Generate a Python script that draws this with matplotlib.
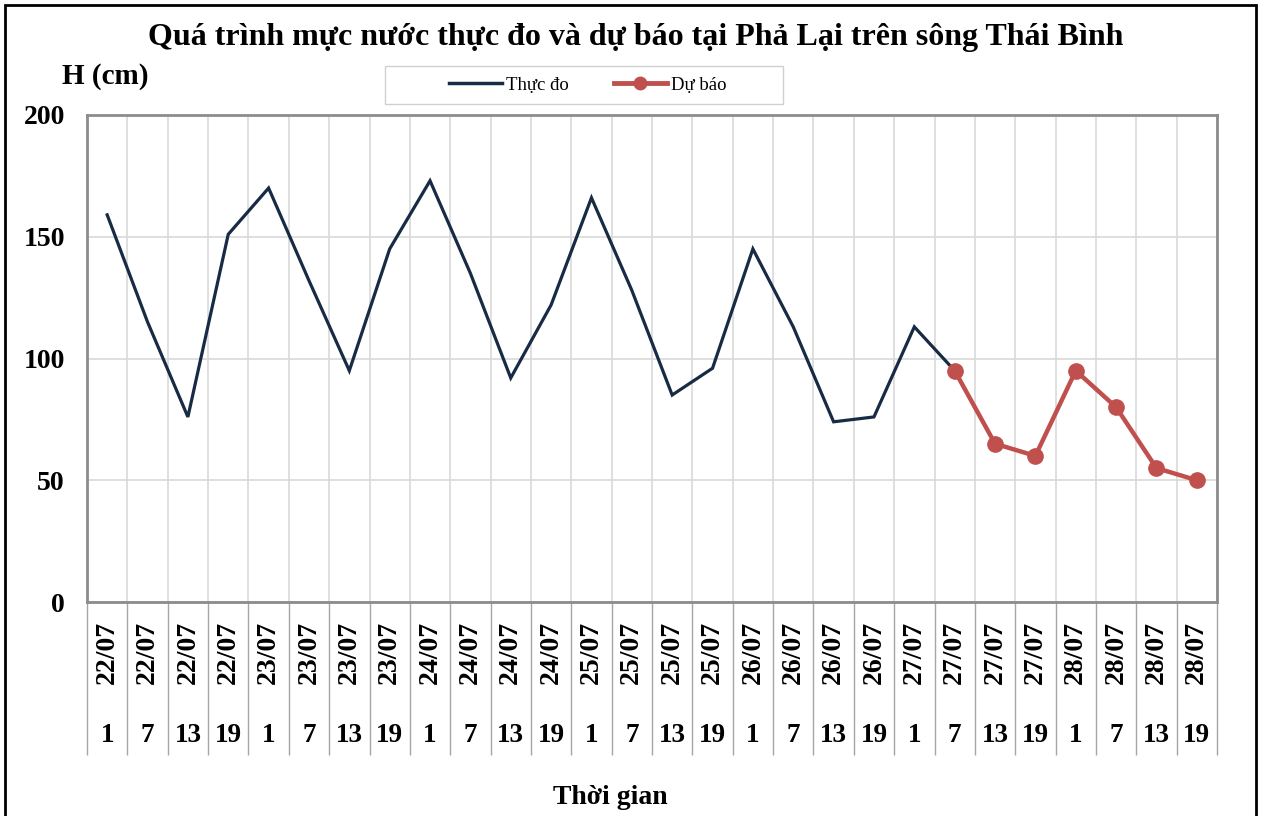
import numpy as np
import matplotlib
matplotlib.use("Agg")
import matplotlib.pyplot as plt
from matplotlib.patches import Rectangle
from matplotlib.lines import Line2D
import matplotlib.transforms as mtransforms

# ---- data ----
dates = ["22/07"] * 4 + ["23/07"] * 4 + ["24/07"] * 4 + ["25/07"] * 4 + \
        ["26/07"] * 4 + ["27/07"] * 4 + ["28/07"] * 4
hours = ["1", "7", "13", "19"] * 7
observed = [159, 115, 76, 151, 170, 132, 95, 145, 173, 135, 92, 122, 166, 128,
            85, 96, 145, 113, 74, 76, 113, 95]
forecast = [95, 65, 60, 95, 80, 55, 50]
forecast_start = 21
yticks = [0, 50, 100, 150, 200]

title = "Quá trình mực nước thực đo và dự báo tại Phả Lại trên sông Thái Bình"
ylabel = "H (cm)"
xlabel = "Thời gian"
obs_name = "Thực đo"
fc_name = "Dự báo"

SERIF = ["Liberation Serif", "DejaVu Serif"]
plt.rcParams['font.family'] = SERIF

W, H = 1264, 816
fig = plt.figure(figsize=(W / 100, H / 100), dpi=100)
fig.patch.set_facecolor("white")

L, R, T, B = 87, 1217, 115, 602
ax = fig.add_axes([L / W, 1 - B / H, (R - L) / W, (B - T) / H])

n = len(hours)
x = np.arange(n)
obs_color = "#172B45"
fc_color = "#C0504D"

ax.plot(x[:len(observed)], observed, color=obs_color, lw=2.3, solid_joinstyle="miter", zorder=3)
xf = x[forecast_start:forecast_start + len(forecast)]
ax.plot(xf, forecast, color=fc_color, lw=3.2, marker="o", markersize=11,
        markeredgecolor=fc_color, zorder=4)

ax.set_xlim(-0.5, n - 0.5)
ax.set_ylim(0, 200)
ax.set_yticks(yticks)
ax.set_yticklabels([str(v) for v in yticks], fontsize=20, fontweight="bold")
ax.tick_params(axis="y", length=0, pad=16)

bounds = np.arange(-0.5, n, 1.0)
ax.set_xticks(bounds)
ax.set_xticklabels([])
ax.tick_params(axis="x", length=110, color="#A6A6A6", width=1.0, direction="out")

ax.grid(True, color="#D9D9D9", lw=1.2, zorder=0)
ax.set_axisbelow(True)
for s in ax.spines.values():
    s.set_color("#8C8C8C")
    s.set_linewidth(2)

trans = mtransforms.blended_transform_factory(ax.transData, ax.transAxes)
for i in range(n):
    ax.text(x[i], -(652 - B) / (B - T), dates[i], transform=trans, rotation=90,
            ha="center", va="center", fontsize=20, fontweight="bold")
    ax.text(x[i], -(735 - B) / (B - T), hours[i], transform=trans,
            ha="center", va="center", fontsize=19.5, fontweight="bold")

fig.text(636 / W, 1 - 37 / H, title, ha="center", va="center", fontsize=23, fontweight="bold")
fig.text(105 / W, 1 - 76 / H, ylabel, ha="center", va="center", fontsize=21, fontweight="bold")
fig.text(610 / W, 1 - 798 / H, xlabel, ha="center", va="center", fontsize=20, fontweight="bold")

# legend box
fig.patches.append(Rectangle((385 / W, 1 - 104 / H), (783 - 385) / W, (104 - 66) / H,
                             transform=fig.transFigure, fill=False, edgecolor="#D0D0D0", lw=1))
handles = [Line2D([], [], color=obs_color, lw=2.5),
           Line2D([], [], color=fc_color, lw=3.5, marker="o", markersize=9)]
fig.legend(handles, [obs_name, fc_name], loc="center", bbox_to_anchor=(588 / W, 1 - 85 / H),
           ncol=2, frameon=False, fontsize=13.5, handlelength=2.8, columnspacing=2.4,
           handletextpad=0.25)

# outer border
fig.patches.append(Rectangle((5 / W, -0.05), (1256 - 5) / W, 1.05 - 5 / H,
                             transform=fig.transFigure, fill=False, edgecolor="black", lw=2))

fig.savefig("out.png", dpi=100)
